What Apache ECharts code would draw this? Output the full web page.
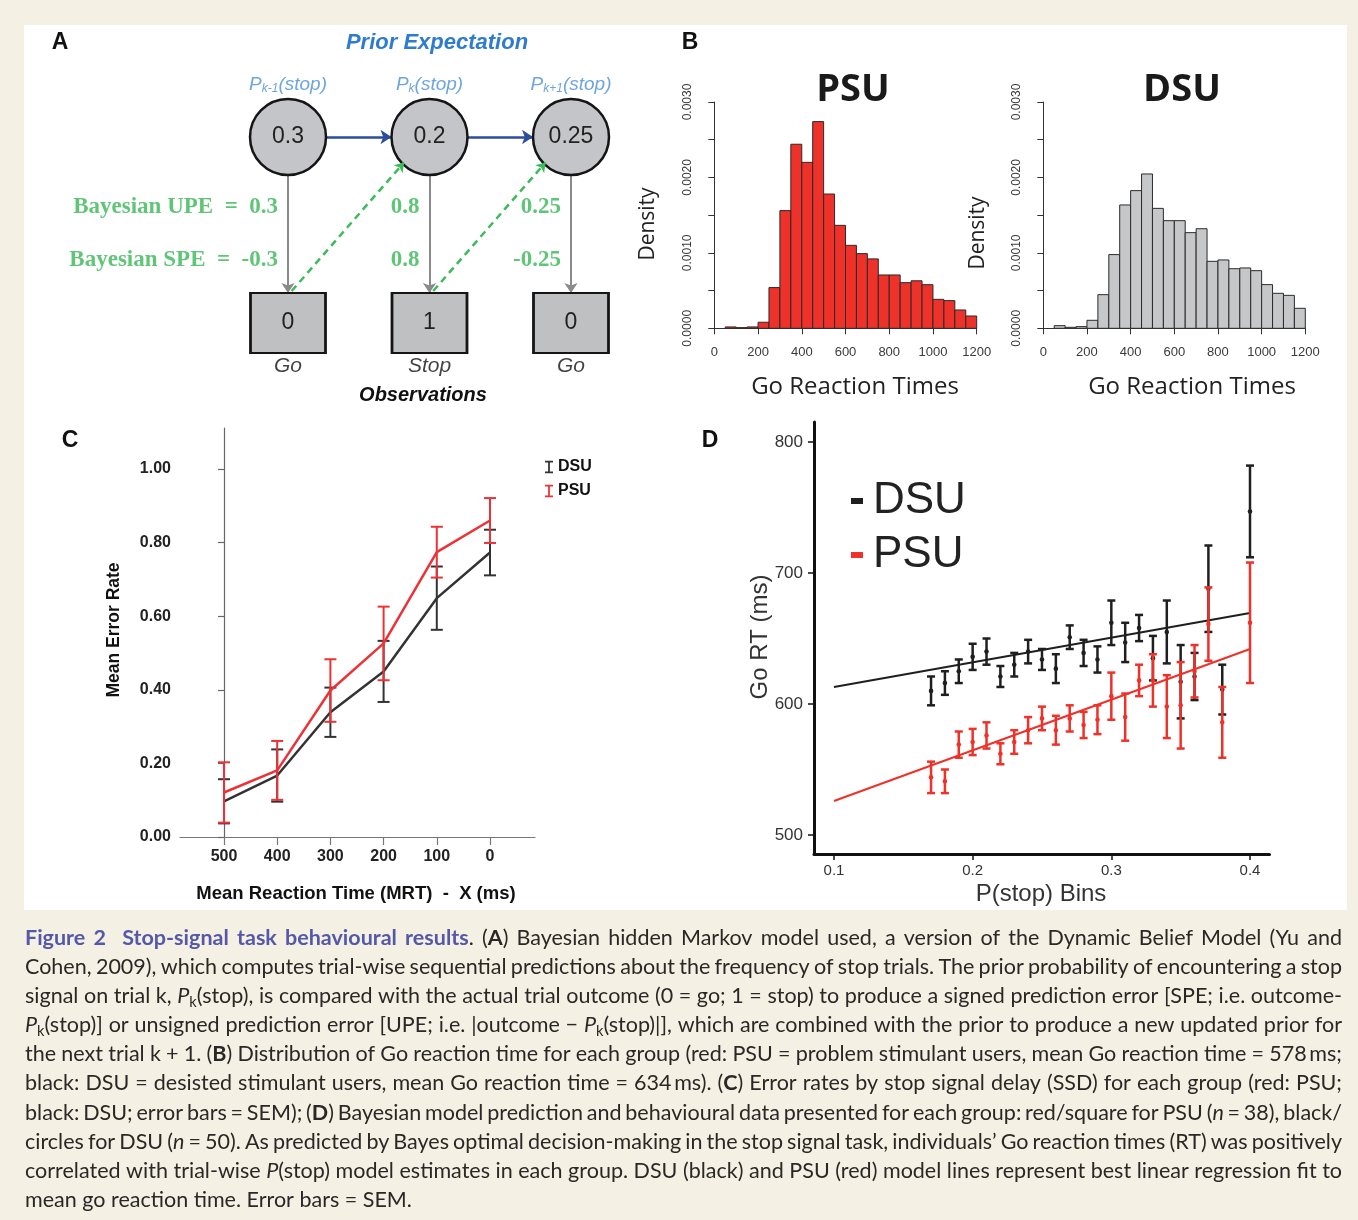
<!DOCTYPE html>
<html><head><meta charset="utf-8"><title>Figure 2</title>
<script src="https://cdn.jsdelivr.net/npm/echarts@6.0.0/dist/echarts.min.js"></script>
<style>
html,body{margin:0;padding:0;background:#f4f0e3;}
#paper{position:absolute;left:24px;top:25px;width:1323px;height:885px;background:#ffffff;}
#c{position:absolute;left:0;top:0;width:1358px;height:1220px;}
</style></head><body><div id="paper"></div><div id="c"></div>
<script>
// ===================== DATA =====================
// Panel A : Bayesian hidden Markov model (three consecutive trials)
const nodeIdx = [0, 1, 2];
const priorStop = [0.3, 0.2, 0.25];
const priorSubs = ['k-1', 'k', 'k+1'];
const observations = [0, 1, 0];
const obsNames = ['Go', 'Stop', 'Go'];
const bayesUPE = [0.3, 0.8, 0.25];
const bayesSPE = [-0.3, 0.8, -0.25];

// Panel B : Go reaction time histograms (bin starts, width 50 ms)
const binStarts = [50,100,150,200,250,300,350,400,450,500,550,600,650,700,750,800,850,900,950,1000,1050,1100,1150];
const binWidth = 50;
const psuDensity = [0.000018,0.000009,0.000018,0.000080,0.000540,0.001560,0.002440,0.002200,0.002740,0.001780,0.001365,0.001100,0.000990,0.000920,0.000707,0.000707,0.000605,0.000630,0.000578,0.000384,0.000367,0.000243,0.000163];
const dsuDensity = [0.000035,0.000013,0.000022,0.000106,0.000446,0.000977,0.001635,0.001825,0.002046,0.001590,0.001427,0.001427,0.001268,0.001320,0.000888,0.000906,0.000790,0.000800,0.000764,0.000579,0.000464,0.000437,0.000265];

// Panel C : error rate by MRT - X
const ssdLabels = ['500', '400', '300', '200', '100', '0'];
const dsuErrRate = [0.097, 0.167, 0.339, 0.450, 0.649, 0.773];
const dsuErrSem  = [0.060, 0.071, 0.067, 0.083, 0.086, 0.062];
const psuErrRate = [0.121, 0.181, 0.398, 0.526, 0.774, 0.860];
const psuErrSem  = [0.082, 0.080, 0.085, 0.100, 0.069, 0.061];
const cTicksY = [0, 0.2, 0.4, 0.6, 0.8, 1.0];

// Panel D : Go RT by P(stop) bin
const pBins  = [0.17,0.18,0.19,0.20,0.21,0.22,0.23,0.24,0.25,0.26,0.27,0.28,0.29,0.30,0.31,0.32,0.33,0.34,0.35,0.36,0.37,0.38,0.40];
const dsuRT  = [610,616,625,636,640,621,630,640,634,627,651,639,634,662,647,658,635,655,617,621,688,611,747];
const dsuSem = [11,9,9,10,10,8,9,9,8,11,9,10,10,17,15,10,17,24,28,18,33,19,35];
const psuRT  = [544,541,569,571,576,562,571,580,589,580,589,584,588,606,590,618,618,598,599,625,661,586,662];
const psuSem = [12,9,10,10,10,8,9,10,9,11,10,10,11,18,18,12,20,24,33,20,28,27,46];
const fitX    = [0.1, 0.4];
const dsuFitY = [613, 669.5];
const psuFitY = [526, 642];
const dTicksX = [0.1, 0.2, 0.3, 0.4];
const dTicksY = [500, 600, 700, 800];

// Caption
const captionLines = [
  [['fig','Figure 2  Stop-signal task behavioural results'],['n','. ('],['b','A'],['n',') Bayesian hidden Markov model used, a version of the Dynamic Belief Model (Yu and']],
  [['n','Cohen, 2009), which computes trial-wise sequential predictions about the frequency of stop trials. The prior probability of encountering a stop']],
  [['n','signal on trial k, '],['i','P'],['sub','k'],['n','(stop), is compared with the actual trial outcome (0 = go; 1 = stop) to produce a signed prediction error [SPE; i.e. outcome-']],
  [['i','P'],['sub','k'],['n','(stop)] or unsigned prediction error [UPE; i.e. |outcome \u2212 '],['i','P'],['sub','k'],['n','(stop)|], which are combined with the prior to produce a new updated prior for']],
  [['n','the next trial k + 1. ('],['b','B'],['n',') Distribution of Go reaction time for each group (red: PSU = problem stimulant users, mean Go reaction time = 578\u2009ms;']],
  [['n','black: DSU = desisted stimulant users, mean Go reaction time = 634\u2009ms). ('],['b','C'],['n',') Error rates by stop signal delay (SSD) for each group (red: PSU;']],
  [['n','black: DSU; error bars = SEM); ('],['b','D'],['n',') Bayesian model prediction and behavioural data presented for each group: red/square for PSU ('],['i','n'],['n',' = 38), black/']],
  [['n','circles for DSU ('],['i','n'],['n',' = 50). As predicted by Bayes optimal decision-making in the stop signal task, individuals\u2019 Go reaction times (RT) was positively']],
  [['n','correlated with trial-wise '],['i','P'],['n','(stop) model estimates in each group. DSU (black) and PSU (red) model lines represent best linear regression fit to']],
  [['n','mean go reaction time. Error bars = SEM.']]
];

// ===================== STYLE HELPERS =====================
const SANS = '"Liberation Sans"';
const HUM = '"Open Sans"';
const RED = '#ee3129', BLACK = '#1f1f1f';

function txt(text, x, y, font, fill, opt) {
  opt = opt || {};
  const align = opt.align || 'center', va = opt.va || 'middle';
  return {type: 'text', x: x, y: y, rotation: opt.rot || 0, z: 50,
    style: {text: text, font: font, fill: fill || '#111', align: align, verticalAlign: va,
            textAlign: align, textVerticalAlign: va}};
}

function histItem(color) {
  return function (params, api) {
    const p0 = api.coord([api.value(0), api.value(2)]);
    const p1 = api.coord([api.value(1), 0]);
    return {type: 'rect', shape: {x: p0[0], y: p0[1], width: p1[0] - p0[0], height: p1[1] - p0[1]},
      style: {fill: color, stroke: '#2b2b2b', lineWidth: 1}};
  };
}

function errorBarItem(color, capHalf, lw, markerR) {
  return function (params, api) {
    const x = api.value(0), m = api.value(1), e = api.value(2);
    const hi = api.coord([x, m + e]), lo = api.coord([x, m - e]), c = api.coord([x, m]);
    const st = {stroke: color, lineWidth: lw};
    const ch = [
      {type: 'line', shape: {x1: hi[0], y1: hi[1], x2: lo[0], y2: lo[1]}, style: st},
      {type: 'line', shape: {x1: hi[0] - capHalf, y1: hi[1], x2: hi[0] + capHalf, y2: hi[1]}, style: st},
      {type: 'line', shape: {x1: lo[0] - capHalf, y1: lo[1], x2: lo[0] + capHalf, y2: lo[1]}, style: st}
    ];
    if (markerR > 0) ch.push({type: 'circle', shape: {cx: c[0], cy: c[1], r: markerR}, style: {fill: color}});
    return {type: 'group', children: ch};
  };
}

// ----- caption layout (justified lines) -----
function capFont(st, size) {
  const it = (st === 'i') ? 'italic ' : '';
  const bw = (st === 'b' || st === 'fig') ? 'bold ' : '';
  const sz = st === 'sub' ? size * 0.68 : size;
  return it + bw + sz.toFixed(2) + 'px "Lato"';
}
function captionElements() {
  const X0 = 25, X1 = 1342, Y0 = 938, LH = 29.1, LAST_W = 387;
  const mctx = document.createElement('canvas').getContext('2d');
  const meas = function (t, st, size) { mctx.font = capFont(st, size); return mctx.measureText(t).width; };
  const lastLine = captionLines[captionLines.length - 1].map(function (s) { return s[1]; }).join('');
  const size = 20 * LAST_W / meas(lastLine, 'n', 20);
  const els = [];
  captionLines.forEach(function (line, li) {
    const toks = [];
    line.forEach(function (seg) {
      seg[1].split(/( )/).forEach(function (p) {
        if (p === ' ') toks.push(null); else if (p) toks.push({st: seg[0], t: p});
      });
    });
    const words = []; let cur = null, gap = 0;
    toks.forEach(function (tk) {
      if (tk === null) { if (cur) { words.push(cur); cur = null; } gap++; }
      else { if (!cur) { cur = {pieces: [], gap: words.length ? gap : 0}; gap = 0; } cur.pieces.push(tk); }
    });
    if (cur) words.push(cur);
    let total = 0, units = 0;
    words.forEach(function (w) {
      w.width = 0;
      w.pieces.forEach(function (p) { p.w = meas(p.t, p.st, size); w.width += p.w; });
      total += w.width; units += w.gap;
    });
    const justify = li < captionLines.length - 1;
    const unit = justify ? (X1 - X0 - total) / units : meas(' ', 'n', size);
    const y = Y0 + li * LH;
    let x = X0;
    words.forEach(function (w) {
      x += w.gap * unit;
      w.pieces.forEach(function (p) {
        els.push({type: 'text', x: x, y: p.st === 'sub' ? y + size * 0.26 : y, z: 50, silent: true,
          style: {text: p.t, font: capFont(p.st, size), fill: p.st === 'fig' ? '#5558a8' : '#2a2826',
            align: 'left', verticalAlign: 'middle', textAlign: 'left', textVerticalAlign: 'middle'}});
        x += p.w;
      });
    });
  });
  return els;
}

// ===================== CHART =====================
const chart = echarts.init(document.getElementById('c'), null, {renderer: 'canvas', width: 1358, height: 1220});

const RX = 0.2686, RY = 0.2043, SY = 0.1613;
const histAxisX = function (gi) {
  return {gridIndex: gi, type: 'value', min: 0, max: 1200, interval: 200, offset: 9,
    axisLine: {show: true, lineStyle: {color: '#333', width: 1}},
    axisTick: {show: true, length: 6, lineStyle: {color: '#333'}},
    axisLabel: {fontSize: 13, color: '#3a3a3a', margin: 9, fontFamily: SANS,
      formatter: function (v) { return String(v); }},
    splitLine: {show: false}};
};
const histAxisY = function (gi) {
  return {gridIndex: gi, type: 'value', min: 0, max: 0.003, interval: 0.0005, offset: 10,
    axisLine: {show: true, lineStyle: {color: '#333', width: 1}},
    axisTick: {show: true, length: 6, lineStyle: {color: '#333'}},
    axisLabel: {fontSize: 12, color: '#3a3a3a', margin: 11, rotate: 90, fontFamily: SANS,
      formatter: function (v) { return Math.round(v * 10000) % 10 === 0 ? v.toFixed(4) : ''; }},
    splitLine: {show: false}};
};

const graphicEls = [
  txt('A', 60, 43, 'bold 23px ' + SANS, '#111'),
  txt('Prior Expectation', 437, 43, 'italic bold 22px ' + SANS, '#2e7bd0'),
  txt('Observations', 423, 395, 'italic bold 20px ' + SANS, '#111'),
  txt('B', 690, 43, 'bold 23px ' + SANS, '#111'),
  txt('PSU', 853, 90, 'bold 38px ' + HUM, '#1a1a1a'),
  txt('DSU', 1182, 90, 'bold 38px ' + HUM, '#1a1a1a'),
  txt('Go Reaction Times', 855, 387, '24px ' + HUM, '#222'),
  txt('Go Reaction Times', 1192, 387, '24px ' + HUM, '#222'),
  txt('Density', 648, 224, '21px ' + HUM, '#222', {rot: Math.PI / 2}),
  txt('Density', 978, 233, '21px ' + HUM, '#222', {rot: Math.PI / 2}),
  txt('C', 70, 441, 'bold 23px ' + SANS, '#111'),
  txt('Mean Error Rate', 114, 630, 'bold 17.5px ' + SANS, '#111', {rot: Math.PI / 2}),
  txt('Mean Reaction Time (MRT)  -  X (ms)', 356, 894, 'bold 18.5px ' + SANS, '#111'),
  txt('D', 710, 441, 'bold 23px ' + SANS, '#111'),
  txt('Go RT (ms)', 760, 637, '24px ' + SANS, '#333', {rot: Math.PI / 2}),
  txt('P(stop) Bins', 1041, 894, '24px ' + SANS, '#333')
].concat(captionElements());

const option = {
  animation: false,
  backgroundColor: 'transparent',
  textStyle: {fontFamily: SANS},
  graphic: {elements: graphicEls},
  grid: [
    {left: 217.25, top: 44, width: 424.5, height: 372},
    {left: 714.3, top: 102, width: 262.4, height: 226.3},
    {left: 1043.3, top: 102, width: 262, height: 226.3},
    {left: 180, top: 428, width: 355, height: 409},
    {left: 814, top: 422, width: 455.5, height: 432}
  ],
  xAxis: [
    {gridIndex: 0, type: 'value', min: -0.5, max: 2.5, show: false},
    histAxisX(1),
    histAxisX(2),
    {gridIndex: 3, type: 'value', min: -0.827, max: 5.846,
      axisLine: {show: true, lineStyle: {color: '#777', width: 1.2}},
      axisTick: {show: true, length: 8, customValues: [0, 1, 2, 3, 4, 5], lineStyle: {color: '#777', width: 1.2}},
      axisLabel: {customValues: [0, 1, 2, 3, 4, 5], margin: 12, fontSize: 16, fontWeight: 'bold', color: '#222',
        formatter: function (v) { return ssdLabels[Math.round(v)]; }},
      splitLine: {show: false}},
    {gridIndex: 4, type: 'value', min: 0.0856, max: 0.41406,
      axisLine: {show: true, lineStyle: {color: '#111', width: 3}},
      axisTick: {show: true, length: 6, customValues: dTicksX, lineStyle: {color: '#111', width: 1.5}},
      axisLabel: {customValues: dTicksX, margin: 9, fontSize: 15, color: '#333',
        formatter: function (v) { return v.toFixed(1); }},
      splitLine: {show: false}}
  ],
  yAxis: [
    {gridIndex: 0, type: 'value', min: -0.5, max: 1.5, show: false},
    histAxisY(1),
    histAxisY(2),
    {gridIndex: 3, type: 'value', min: 0, max: 1.1114,
      axisLine: {show: true, lineStyle: {color: '#666', width: 1.2}},
      axisTick: {show: true, length: 6, customValues: cTicksY, lineStyle: {color: '#666', width: 1.2}},
      axisLabel: {customValues: cTicksY, margin: 9, fontSize: 16, fontWeight: 'bold', color: '#222',
        formatter: function (v) { return v.toFixed(2); }},
      splitLine: {show: false}},
    {gridIndex: 4, type: 'value', min: 485.5, max: 815.27,
      axisLine: {show: true, lineStyle: {color: '#111', width: 3}},
      axisTick: {show: true, length: 6, customValues: dTicksY, lineStyle: {color: '#111', width: 1.5}},
      axisLabel: {customValues: dTicksY, margin: 11, fontSize: 17, color: '#333'},
      splitLine: {show: false}}
  ],
  legend: [
    {data: ['C:DSU', 'C:PSU'], left: 540, top: 452, orient: 'vertical', selectedMode: false,
      icon: 'path://M0,0H9V2H5.5V12H9V14H0V12H3.5V2H0Z', itemWidth: 8, itemHeight: 14, itemGap: 4,
      formatter: function (n) { return n.slice(2); },
      textStyle: {fontSize: 16, fontWeight: 'bold', color: '#111', lineHeight: 20, fontFamily: SANS}},
    {data: ['D:DSU', 'D:PSU'], left: 846, top: 471, orient: 'vertical', selectedMode: false,
      icon: 'rect', itemWidth: 12, itemHeight: 6, itemGap: 4,
      formatter: function (n) { return n.slice(2); },
      textStyle: {fontSize: 44, color: '#222', lineHeight: 50, fontFamily: SANS, padding: [0, 0, 0, 5]}}
  ],
  series: [
    // ---------- Panel A ----------
    {name: 'transition', type: 'lines', coordinateSystem: 'cartesian2d', xAxisIndex: 0, yAxisIndex: 0, silent: true,
      data: nodeIdx.slice(0, -1).map(function (i) { return {coords: [[i + RX, 1], [i + 1 - RX, 1]]}; }),
      lineStyle: {color: '#2b4d9b', width: 2.5, opacity: 1}, symbol: ['none', 'arrow'], symbolSize: 11, z: 2},
    {name: 'emission', type: 'lines', coordinateSystem: 'cartesian2d', xAxisIndex: 0, yAxisIndex: 0, silent: true,
      data: nodeIdx.map(function (i) { return {coords: [[i, 1 - RY], [i, SY]]}; }),
      lineStyle: {color: '#8a8a8a', width: 2, opacity: 1}, symbol: ['none', 'arrow'], symbolSize: 10, z: 2},
    {name: 'feedback', type: 'lines', coordinateSystem: 'cartesian2d', xAxisIndex: 0, yAxisIndex: 0, silent: true,
      data: nodeIdx.slice(0, -1).map(function (i) { return {coords: [[i + 0.026, 0.172], [i + 1 - 0.18, 1 - 0.137]]}; }),
      lineStyle: {color: '#3dba5c', width: 2.5, type: [7, 5], opacity: 1}, symbol: ['none', 'arrow'], symbolSize: 9, z: 4},
    {name: 'prior', type: 'scatter', xAxisIndex: 0, yAxisIndex: 0, silent: true, z: 3,
      data: nodeIdx.map(function (i) { return [i, 1, priorStop[i]]; }),
      symbol: 'circle', symbolSize: 76,
      itemStyle: {color: '#c4c5c8', borderColor: '#151515', borderWidth: 2.5, opacity: 1},
      label: {show: true, position: 'inside', formatter: function (p) { return String(p.value[2]); },
        fontSize: 23, color: '#222', fontFamily: SANS}},
    {name: 'priorName', type: 'scatter', xAxisIndex: 0, yAxisIndex: 0, silent: true, symbolSize: 0,
      data: nodeIdx.map(function (i) { return [i, 1]; }),
      label: {show: true, position: 'top', distance: 42,
        formatter: function (p) { return '{i|P}{s|' + priorSubs[p.dataIndex] + '}{i|(stop)}'; },
        rich: {i: {fontStyle: 'italic', fontSize: 19, color: '#4a8ed6', fontFamily: SANS},
               s: {fontStyle: 'italic', fontSize: 12, color: '#4a8ed6', fontFamily: SANS, padding: [9, 0, 0, 0]}}}},
    {name: 'observation', type: 'scatter', xAxisIndex: 0, yAxisIndex: 0, silent: true, z: 3,
      data: nodeIdx.map(function (i) { return [i, 0, observations[i]]; }),
      symbol: 'rect', symbolSize: [75, 60],
      itemStyle: {color: '#bfc0c2', borderColor: '#151515', borderWidth: 2.5, opacity: 1},
      label: {show: true, position: 'inside', formatter: function (p) { return String(p.value[2]); },
        fontSize: 23, color: '#222', fontFamily: SANS}},
    {name: 'obsName', type: 'scatter', xAxisIndex: 0, yAxisIndex: 0, silent: true, symbolSize: 0,
      data: nodeIdx.map(function (i) { return [i, 0]; }),
      label: {show: true, position: 'bottom', distance: 33,
        formatter: function (p) { return obsNames[p.dataIndex]; },
        fontSize: 21, fontStyle: 'italic', color: '#111', fontFamily: SANS}},
    {name: 'UPE', type: 'scatter', xAxisIndex: 0, yAxisIndex: 0, silent: true, symbolSize: 0,
      data: nodeIdx.map(function (i) { return [i, 0.624, bayesUPE[i]]; }),
      label: {show: true, position: 'left', distance: 10,
        formatter: function (p) { return (p.dataIndex === 0 ? 'Bayesian UPE  =  ' : '') + p.value[2]; },
        fontSize: 23, fontWeight: 'bold', color: '#38b655', fontFamily: '"Liberation Serif"'}},
    {name: 'SPE', type: 'scatter', xAxisIndex: 0, yAxisIndex: 0, silent: true, symbolSize: 0,
      data: nodeIdx.map(function (i) { return [i, 0.339, bayesSPE[i]]; }),
      label: {show: true, position: 'left', distance: 10,
        formatter: function (p) { return (p.dataIndex === 0 ? 'Bayesian SPE  =  ' : '') + p.value[2]; },
        fontSize: 23, fontWeight: 'bold', color: '#38b655', fontFamily: '"Liberation Serif"'}},

    // ---------- Panel B ----------
    {name: 'PSU hist', type: 'custom', xAxisIndex: 1, yAxisIndex: 1, silent: true,
      data: binStarts.map(function (s, i) { return [s, s + binWidth, psuDensity[i]]; }),
      encode: {x: [0, 1], y: 2}, renderItem: histItem(RED)},
    {name: 'DSU hist', type: 'custom', xAxisIndex: 2, yAxisIndex: 2, silent: true,
      data: binStarts.map(function (s, i) { return [s, s + binWidth, dsuDensity[i]]; }),
      encode: {x: [0, 1], y: 2}, renderItem: histItem('#c6c7c9')},

    // ---------- Panel C ----------
    {name: 'C:DSU', type: 'line', xAxisIndex: 3, yAxisIndex: 3, silent: true, showSymbol: false, symbol: 'none',
      data: dsuErrRate.map(function (v, i) { return [i, v]; }),
      itemStyle: {color: '#333333'}, lineStyle: {color: '#333333', width: 2.5}, z: 3},
    {name: 'C:DSU', type: 'custom', xAxisIndex: 3, yAxisIndex: 3, silent: true,
      data: dsuErrRate.map(function (v, i) { return [i, v, dsuErrSem[i]]; }),
      encode: {x: 0, y: 1}, itemStyle: {color: '#333333'}, renderItem: errorBarItem('#333333', 6, 2, 0), z: 3},
    {name: 'C:PSU', type: 'line', xAxisIndex: 3, yAxisIndex: 3, silent: true, showSymbol: false, symbol: 'none',
      data: psuErrRate.map(function (v, i) { return [i, v]; }),
      itemStyle: {color: '#ec3237'}, lineStyle: {color: '#ec3237', width: 2.5}, z: 4},
    {name: 'C:PSU', type: 'custom', xAxisIndex: 3, yAxisIndex: 3, silent: true,
      data: psuErrRate.map(function (v, i) { return [i, v, psuErrSem[i]]; }),
      encode: {x: 0, y: 1}, itemStyle: {color: '#ec3237'}, renderItem: errorBarItem('#ec3237', 6, 2, 0), z: 4},

    // ---------- Panel D ----------
    {name: 'D:DSU', type: 'custom', xAxisIndex: 4, yAxisIndex: 4, silent: true,
      data: pBins.map(function (x, i) { return [x, dsuRT[i], dsuSem[i]]; }),
      encode: {x: 0, y: 1}, itemStyle: {color: BLACK}, renderItem: errorBarItem(BLACK, 4, 2.5, 2.3), z: 3},
    {name: 'D:DSU', type: 'line', xAxisIndex: 4, yAxisIndex: 4, silent: true, showSymbol: false, symbol: 'none',
      data: fitX.map(function (x, i) { return [x, dsuFitY[i]]; }),
      itemStyle: {color: BLACK}, lineStyle: {color: BLACK, width: 2}, z: 3},
    {name: 'D:PSU', type: 'custom', xAxisIndex: 4, yAxisIndex: 4, silent: true,
      data: pBins.map(function (x, i) { return [x, psuRT[i], psuSem[i]]; }),
      encode: {x: 0, y: 1}, itemStyle: {color: RED}, renderItem: errorBarItem(RED, 4, 2.5, 2.3), z: 4},
    {name: 'D:PSU', type: 'line', xAxisIndex: 4, yAxisIndex: 4, silent: true, showSymbol: false, symbol: 'none',
      data: fitX.map(function (x, i) { return [x, psuFitY[i]]; }),
      itemStyle: {color: RED}, lineStyle: {color: RED, width: 2}, z: 4}
  ]
};
chart.setOption(option);
</script></body></html>
